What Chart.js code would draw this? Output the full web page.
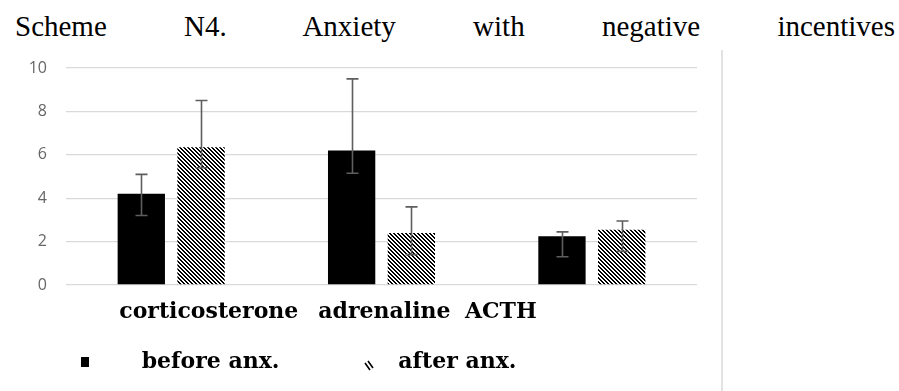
<!DOCTYPE html>
<html>
<head>
<meta charset="utf-8">
<script src="https://cdn.jsdelivr.net/npm/chart.js@4.4.1/dist/chart.umd.min.js"></script>
<style>
  html, body { margin: 0; padding: 0; background: #fff; }
  #wrap { position: relative; width: 899px; height: 391px; overflow: hidden; background: #fff; }
  #chart { position: absolute; left: 0; top: 0; }
  .title {
    position: absolute; left: 15px; top: 11.7px; width: 880px;
    font: 29px/29px "Liberation Serif", serif; color: #000;
    text-align: justify; text-align-last: justify;
  }
  .lbl {
    position: absolute; font: bold 22px/22px "DejaVu Serif", serif;
    color: #000; white-space: nowrap;
  }
  .mark { position: absolute; }
  .vline { position: absolute; left: 721px; top: 50px; width: 2px; height: 341px; background: #e2e2e2; }
</style>
</head>
<body>
<div id="wrap">
  <div class="title">Scheme N4. Anxiety with negative incentives</div>
  <canvas id="chart" width="899" height="391"></canvas>
  <div class="vline"></div>
</div>
<script>
// Hormone levels before and after anxiety, with error ranges
const categories = ['corticosterone', 'adrenaline', 'ACTH'];
const seriesNames = ['before anx.', 'after anx.'];
const beforeValues = [4.2, 6.2, 2.25];
const afterValues = [6.35, 2.4, 2.55];
const beforeErrPlus = [0.9, 3.3, 0.2];
const beforeErrMinus = [1.0, 1.05, 0.95];
const afterErrPlus = [2.15, 1.2, 0.4];
const afterErrMinus = [0.95, 1.0, 1.0];
const yTicks = [0, 2, 4, 6, 8, 10];

// Layout of the text placed under the plot
const categoryLabelX = [119.3, 318.3, 465];
const categoryLabelTop = 298.7;
const legendTop = 348.7;
const legendTextX = [141.7, 398.3];

// Diagonal hatch fill ("\" stripes)
function makeHatch() {
  const c = document.createElement('canvas');
  c.width = 8; c.height = 8;
  const g = c.getContext('2d');
  const img = g.createImageData(8, 8);
  for (let y = 0; y < 8; y++) {
    for (let x = 0; x < 8; x++) {
      const on = ((x - y + 16) % 4) < 2;
      const i = (y * 8 + x) * 4;
      const v = on ? 0 : 255;
      img.data[i] = v; img.data[i + 1] = v; img.data[i + 2] = v; img.data[i + 3] = 255;
    }
  }
  g.putImageData(img, 0, 0);
  return c;
}
const hatchCanvas = makeHatch();
const hatch = document.getElementById('chart').getContext('2d').createPattern(hatchCanvas, 'repeat');

const errPlus = [beforeErrPlus, afterErrPlus];
const errMinus = [beforeErrMinus, afterErrMinus];

const errorBars = {
  id: 'errorBars',
  afterDatasetsDraw(chart) {
    const ctx = chart.ctx;
    const ys = chart.scales.y;
    ctx.save();
    ctx.strokeStyle = '#5e5e5e';
    ctx.lineWidth = 1.6;
    chart.data.datasets.forEach((ds, di) => {
      const meta = chart.getDatasetMeta(di);
      meta.data.forEach((bar, i) => {
        const v = ds.data[i];
        const top = ys.getPixelForValue(v + errPlus[di][i]);
        const bot = ys.getPixelForValue(v - errMinus[di][i]);
        const x = Math.round(bar.x) + 0.5;
        const cap = 6;
        ctx.beginPath();
        ctx.moveTo(x, top); ctx.lineTo(x, bot);
        ctx.moveTo(x - cap, top); ctx.lineTo(x + cap, top);
        ctx.moveTo(x - cap, bot); ctx.lineTo(x + cap, bot);
        ctx.stroke();
      });
    });
    ctx.restore();
  }
};

new Chart(document.getElementById('chart'), {
  type: 'bar',
  data: {
    labels: categories,
    datasets: [
      { label: seriesNames[0], data: beforeValues, backgroundColor: '#000000', borderWidth: 0 },
      { label: seriesNames[1], data: afterValues, backgroundColor: hatch, borderWidth: 0 }
    ]
  },
  options: {
    responsive: false,
    animation: false,
    devicePixelRatio: 1,
    layout: { padding: { left: 0, right: 202, top: 68, bottom: 106 } },
    datasets: { bar: { barPercentage: 0.792, categoryPercentage: 0.568 } },
    plugins: { legend: { display: false }, tooltip: { enabled: false }, title: { display: false } },
    scales: {
      x: { display: false },
      y: {
        min: 0, max: 10,
        afterBuildTicks(s) { s.ticks = yTicks.map(v => ({ value: v })); },
        afterFit(s) { s.width = 66; },
        border: { display: false },
        grid: { color: '#d9d9d9', lineWidth: 1.3, drawTicks: false },
        ticks: { padding: 19, color: '#666666', font: { family: 'Open Sans', size: 16 } }
      }
    }
  },
  plugins: [errorBars]
});

// Category names under the plot
const wrap = document.getElementById('wrap');
categories.forEach((name, i) => {
  const d = document.createElement('div');
  d.className = 'lbl';
  d.textContent = name;
  d.style.left = categoryLabelX[i] + 'px';
  d.style.top = categoryLabelTop + 'px';
  wrap.appendChild(d);
});

// Legend
seriesNames.forEach((name, i) => {
  const d = document.createElement('div');
  d.className = 'lbl';
  d.textContent = name;
  d.style.left = legendTextX[i] + 'px';
  d.style.top = legendTop + 'px';
  wrap.appendChild(d);
});
const m1 = document.createElement('div');
m1.className = 'mark';
Object.assign(m1.style, { left: '81px', top: '357px', width: '8px', height: '10px', background: '#000' });
wrap.appendChild(m1);
const m2 = document.createElement('canvas');
m2.className = 'mark';
m2.width = 10; m2.height = 12;
Object.assign(m2.style, { left: '364px', top: '360px' });
(function () {
  const g = m2.getContext('2d');
  g.strokeStyle = '#000';
  g.lineWidth = 1.6;
  g.beginPath();
  g.moveTo(1, 3); g.lineTo(6, 10);
  g.moveTo(4, 1); g.lineTo(9, 8);
  g.stroke();
})();
wrap.appendChild(m2);
</script>
</body>
</html>
